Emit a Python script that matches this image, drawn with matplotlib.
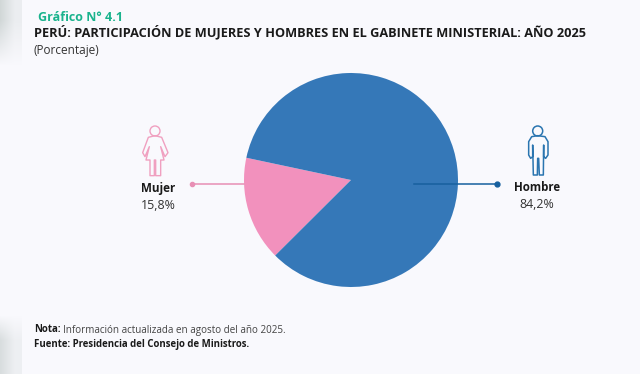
import matplotlib
matplotlib.use('Agg')
import matplotlib.pyplot as plt
import numpy as np
from matplotlib.patches import Circle, Polygon

W, H = 640, 374
fn = 'Open Sans'

labels = ['Mujer', 'Hombre']
values = [15.8, 84.2]
value_labels = ['15,8%', '84,2%']
colors = ['#f291bd', '#3578b8']

woman = [(105, 77), (85, 82), (68, 128), (75, 140), (88, 110), (78, 150), (90, 150), (90, 197), (103, 197),
         (103, 150), (107, 150), (107, 197), (122, 197), (122, 150), (132, 150), (122, 110), (135, 140),
         (144, 128), (125, 82)]
man = [(413, 77), (395, 80), (386, 95), (386, 135), (392, 145), (398, 140), (398, 105), (400, 195), (412, 195),
       (413, 145), (416, 145), (418, 195), (430, 195), (431, 105), (431, 140), (437, 145), (444, 135),
       (444, 95), (435, 80)]

fig = plt.figure(figsize=(W / 100, H / 100), dpi=100, facecolor='#f9f9fd')

# fondo
bg = fig.add_axes([0, 0, 1, 1])
bg.set_xlim(0, W)
bg.set_ylim(H, 0)
bg.axis('off')
yy = np.arange(H)
shade = np.clip((65 - yy) / 45, 0, 1) * 0.6 + np.clip((yy - 315) / 25, 0, 1) * 0.5
xx = np.clip((22 - np.arange(22)) / 22, 0.35, 1)
strip = np.zeros((H, 22, 4))
strip[:, :, :3] = np.array([0.72, 0.76, 0.75])
strip[:, :, 3] = np.outer(shade, xx)
bg.imshow(strip, extent=(0, 22, H, 0), aspect='auto', interpolation='bilinear')
bg.set_xlim(0, W)
bg.set_ylim(H, 0)

# pie
r = 107
cx, cy = 351, 180
pie_ax = fig.add_axes([(cx - r) / W, 1 - (cy + r) / H, 2 * r / W, 2 * r / H])
pie_ax.pie(values, colors=colors, startangle=168, counterclock=True, radius=1)
pie_ax.set_xlim(-1, 1)
pie_ax.set_ylim(-1, 1)
pie_ax.axis('off')

# lineas
top = fig.add_axes([0, 0, 1, 1])
top.set_xlim(0, W)
top.set_ylim(H, 0)
top.axis('off')
top.patch.set_alpha(0)
top.plot([192, 244], [184, 184], color='#e88fb5', lw=1.1)
top.plot([192], [184], 'o', color='#e88fb5', ms=3)
top.plot([414, 497], [184, 184], color='#17609f', lw=1.1)
top.plot([497], [184], 'o', color='#17609f', ms=3.5)

# iconos
top.add_patch(Circle((155, 131), 5, fill=False, ec='#f0a0c0', lw=1))
top.add_patch(Polygon([(x / 3 + 120, y / 3 + 110) for x, y in woman], fill=False, ec='#f0a0c0', lw=1, joinstyle='round'))
top.add_patch(Circle((537.7, 131), 5, fill=False, ec='#2a75b0', lw=1.1))
top.add_patch(Polygon([(x / 3 + 400, y / 3 + 110) for x, y in man], fill=False, ec='#2a75b0', lw=1.1, joinstyle='round'))

# textos
top.text(38, 17, 'Gráfico N° 4.1', color='#1ab38d', fontsize=9, fontweight='bold', family=fn, va='center')
top.text(34, 32, 'PERÚ: PARTICIPACIÓN DE MUJERES Y HOMBRES EN EL GABINETE MINISTERIAL: AÑO 2025',
         color='#1a1a1a', fontsize=9.15, fontweight='bold', family=fn, va='center')
top.text(34, 50, '(Porcentaje)', color='#333333', fontsize=8.5, family=fn, va='center')
top.text(158, 188, labels[0], color='#1a1a1a', fontsize=8.4, fontweight='bold', family=fn, ha='center', va='center')
top.text(158, 205, value_labels[0], color='#333333', fontsize=8.9, family=fn, ha='center', va='center')
top.text(537, 187, labels[1], color='#1a1a1a', fontsize=8.3, fontweight='bold', family=fn, ha='center', va='center')
top.text(537, 204, value_labels[1], color='#333333', fontsize=8.9, family=fn, ha='center', va='center')
top.text(34, 330, 'Nota:', color='#1a1a1a', fontsize=7, fontweight='bold', family=fn, va='center')
top.text(63, 330, 'Información actualizada en agosto del año 2025.', color='#444444', fontsize=7.1, family=fn, va='center')
top.text(34, 344, 'Fuente: Presidencia del Consejo de Ministros.', color='#1a1a1a', fontsize=6.9, fontweight='bold',
         family=fn, va='center')

plt.savefig('out.png', dpi=100, facecolor=fig.get_facecolor())
plt.close()
